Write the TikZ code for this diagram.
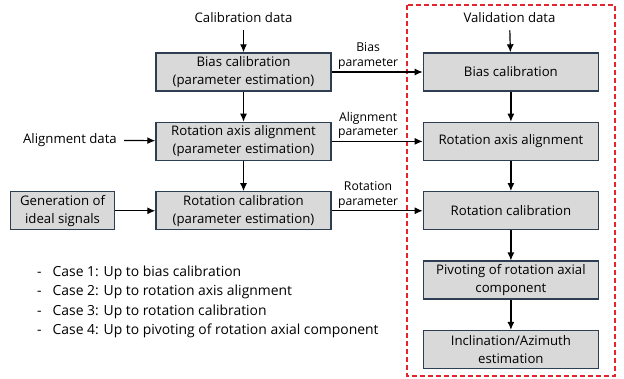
\documentclass[tikz,border=0pt]{standalone}
\usepackage{fontspec}
\setmainfont{Open Sans}
\usetikzlibrary{arrows.meta, positioning}
\definecolor{boxfill}{HTML}{D9D9D9}
\definecolor{boxedge}{HTML}{2C3E50}
\definecolor{valred}{HTML}{E3262B}
\tikzset{box/.style={rectangle,draw=boxedge,fill=boxfill,line width=1.4pt,align=center,inner sep=2pt,minimum width=175pt,minimum height=38pt,font=\fontsize{13.2}{18}\selectfont},line/.style={-{Latex[length=8pt,width=7pt]},line width=1.2pt},datatext/.style={align=center,inner sep=7pt,font=\fontsize{13.2}{18}\selectfont},parlabel/.style={align=center,inner sep=2pt,font=\fontsize{12.2}{14.5}\selectfont},valframe/.style={draw=valred,line width=1.3pt,dash pattern=on 5pt off 3pt}}

\begin{document}
\begin{tikzpicture}[x=1pt,y=1pt,node distance=30pt and 91pt]
\useasboundingbox (0,0) rectangle (624,-379);
% estimation chain
\node[box] (bias) at (243.5,-72) {Bias calibration\\(parameter estimation)};
\node[box, below=of bias] (axis) {Rotation axis alignment\\(parameter estimation)};
\node[box, below=of axis] (rot) {Rotation calibration\\(parameter estimation)};
\node[box, left=40pt of rot, minimum width=104pt] (ideal) {Generation of\\ideal signals};
\node[datatext] (caldata) at (243.5,-18) {Calibration data};
\node[datatext, anchor=east] (aligndata) at (124,-140) {Alignment data};
% validation chain
\node[box, right=of bias] (vbias) {Bias calibration};
\node[box, below=of vbias] (vaxis) {Rotation axis alignment};
\node[box, below=of vaxis] (vrot) {Rotation calibration};
\node[box, below=of vrot] (pivot) {Pivoting of rotation axial\\component};
\node[box, below=of pivot] (incl) {Inclination/Azimuth\\estimation};
\node[datatext] (valdata) at (509.5,-18) {Validation data};
\draw[valframe] (407,-5) rectangle (615,-376);
\draw[line] (caldata) -- (bias);
\draw[line] (bias) -- (axis);
\draw[line] (axis) -- (rot);
\draw[line] (aligndata) -- (axis);
\draw[line] (ideal) -- (rot);
\draw[line] (valdata) -- (vbias);
\draw[line] (vbias) -- (vaxis);
\draw[line] (vaxis) -- (vrot);
\draw[line] (vrot) -- (pivot);
\draw[line] (pivot) -- (incl);
\draw[line] (bias) -- node[parlabel, above, pos=0.4] {Bias\\parameter} (vbias);
\draw[line] (axis) -- node[parlabel, above, pos=0.4] {Alignment\\parameter} (vaxis);
\draw[line] (rot) -- node[parlabel, above, pos=0.4] {Rotation\\parameter} (vrot);
% cases
\node[anchor=west, inner sep=0pt, font=\fontsize{13.9}{19.5}\selectfont] (cases) at (37,-301.5) {\begin{tabular}{@{}l@{\hspace{11pt}}l@{}}
-&Case 1: Up to bias calibration\\
-&Case 2: Up to rotation axis alignment\\
-&Case 3: Up to rotation calibration\\
-&Case 4: Up to pivoting of rotation axial component
\end{tabular}};
\end{tikzpicture}
\end{document}
